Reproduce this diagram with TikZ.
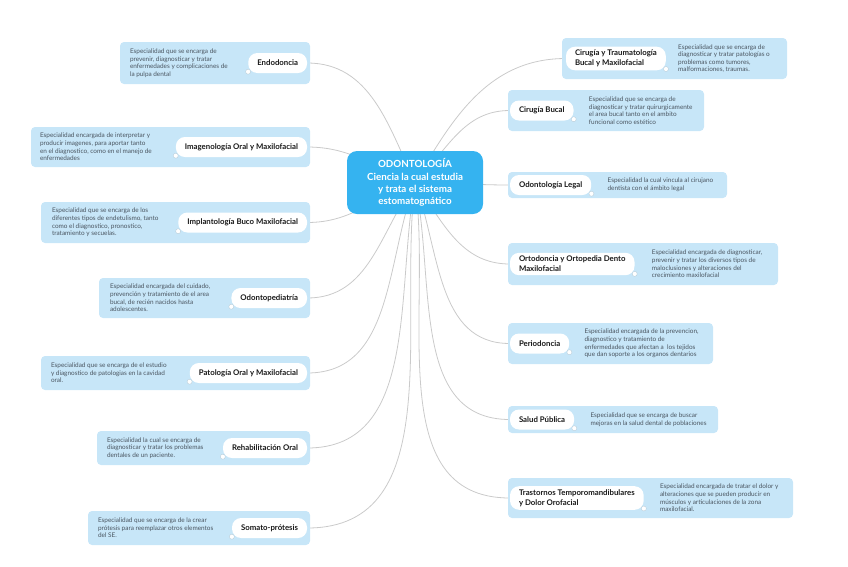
\documentclass[tikz,border=0pt]{standalone}
\usepackage{fontspec}
\setmainfont{Lato}
\usetikzlibrary{positioning, fit, backgrounds}
\definecolor{topiccol}{HTML}{35B3F0}
\definecolor{boxcol}{HTML}{C7E6F8}
\definecolor{linecol}{HTML}{CACACA}
\definecolor{desccol}{HTML}{4A5560}

\begin{document}
\begin{tikzpicture}[
    x=1pt, y=1pt,
    every node/.style={font=\fontsize{6.4}{7.6}\selectfont},
    topic/.style={rectangle, rounded corners=10pt, fill=topiccol, text=white,
                  align=center, minimum width=136pt, minimum height=63pt,
                  font=\fontsize{9.8}{12.3}\selectfont\bfseries},
    infobox/.style={rectangle, rounded corners=4pt, fill=boxcol, inner sep=0pt},
    pill/.style={rectangle, rounded corners=9pt, fill=white, align=left,
                 inner xsep=9pt, minimum height=20pt, text=black!90,
                 font=\fontsize{7.8}{9.8}\selectfont\bfseries},
    desc/.style={align=left, text=desccol, inner sep=0pt},
    dot/.style={circle, fill=white, draw=boxcol!70!gray, line width=0.3pt,
                inner sep=0pt, minimum size=5pt},
    branch/.style={draw=linecol, line width=0.8pt},
]
\useasboundingbox (0,0) rectangle (848,-566);

\node[topic] (topic) at (415,-182.5) {ODONTOLOGÍA\\Ciencia la cual estudia\\
    y trata el sistema\\estomatognático};

% Left branches
\node[infobox, fit={(120,-42) (310,-84)}] (endobox) {};
\node[pill, anchor=east] (endo) at ([xshift=-3pt]endobox.east) {Endodoncia};
\node[desc, anchor=west] (endodesc) at ([xshift=10pt]endobox.west)
    {Especialidad que se encarga de\\prevenir, diagnosticar y tratar\\
     enfermedades y complicaciones de\\la pulpa dental};
\node[dot] (endodot) at ([yshift=1.5pt]endo.south west) {};

\node[infobox, fit={(31,-127) (310,-167)}] (imagbox) {};
\node[pill, anchor=east] (imag) at ([xshift=-3pt]imagbox.east)
    {Imagenología Oral y Maxilofacial};
\node[desc, anchor=west] (imagdesc) at ([xshift=9pt]imagbox.west)
    {Especialidad encargada de interpretar y\\producir imagenes, para aportar tanto\\
     en el diagnostico, como en el manejo de\\enfermedades};
\node[dot] (imagdot) at ([yshift=1.5pt]imag.south west) {};

\node[infobox, fit={(41,-202) (310,-243)}] (implbox) {};
\node[pill, anchor=east] (impl) at ([xshift=-3pt]implbox.east)
    {Implantología Buco Maxilofacial};
\node[desc, anchor=west] (impldesc) at ([xshift=11pt]implbox.west)
    {Especialidad que se encarga de los\\diferentes tipos de endetulismo, tanto\\
     como el diagnostico, pronostico,\\tratamiento y secuelas.};
\node[dot] (impldot) at ([yshift=1.5pt]impl.south west) {};

\node[infobox, fit={(99,-278) (310,-318)}] (odpedbox) {};
\node[pill, anchor=east] (odped) at ([xshift=-3pt]odpedbox.east) {Odontopediatría};
\node[desc, anchor=west] (odpeddesc) at ([xshift=11pt]odpedbox.west)
    {Especialidad encargada del cuidado,\\prevención y tratamiento de el area\\
     bucal, de recién nacidos hasta\\adolescentes.};
\node[dot] (odpeddot) at ([yshift=1.5pt]odped.south west) {};

\node[infobox, fit={(41,-356) (310,-390)}] (patolbox) {};
\node[pill, anchor=east] (patol) at ([xshift=-3pt]patolbox.east)
    {Patología Oral y Maxilofacial};
\node[desc, anchor=west] (pataoldesc) at ([xshift=10pt]patolbox.west)
    {Especialidad que se encarga de el estudio\\y diagnostico de patologias en la cavidad\\
     oral.};
\node[dot] (patoldot) at ([yshift=1.5pt]patol.south west) {};

\node[infobox, fit={(97,-431) (310,-465)}] (rehabbox) {};
\node[pill, anchor=east] (rehab) at ([xshift=-3pt]rehabbox.east) {Rehabilitación Oral};
\node[desc, anchor=west] (rehabdesc) at ([xshift=10pt]rehabbox.west)
    {Especialidad la cual se encarga de\\diagnosticar y tratar los problemas\\
     dentales de un paciente.};
\node[dot] (rehabdot) at ([yshift=1.5pt]rehab.south west) {};

\node[infobox, fit={(88,-511) (310,-545)}] (somatobox) {};
\node[pill, anchor=east] (somato) at ([xshift=-3pt]somatobox.east) {Somato-prótesis};
\node[desc, anchor=west] (somatodesc) at ([xshift=10pt]somatobox.west)
    {Especialidad que se encarga de la crear\\prótesis para reemplazar otros elementos\\
     del SE.};
\node[dot] (somatodot) at ([yshift=1.5pt]somato.south west) {};

% Right branches
\node[infobox, fit={(562,-38) (787,-79)}] (cirtraubox) {};
\node[pill, anchor=west] (cirtrau) at ([xshift=4pt]cirtraubox.west)
    {Cirugía y Traumatología\\Bucal y Maxilofacial};
\node[desc, right=12pt of cirtrau] (cirtraudesc)
    {Especialidad que se encarga de\\diagnosticar y tratar patologías o\\
     problemas como tumores,\\malformaciones, traumas.};
\node[dot] (cirtraudot) at ([yshift=1.5pt]cirtrau.south east) {};

\node[infobox, fit={(508,-90) (704,-131)}] (cirbucbox) {};
\node[pill, anchor=west] (cirbuc) at ([xshift=2pt]cirbucbox.west) {Cirugía Bucal};
\node[desc, right=15pt of cirbuc] (cirbucdesc)
    {Especialidad que se encarga de\\diagnosticar y tratar quirurgicamente\\
     el area bucal tanto en el ambito\\funcional como estético};
\node[dot] (cirbucdot) at ([yshift=1.5pt]cirbuc.south east) {};

\node[infobox, fit={(508,-172) (727,-198)}] (legalbox) {};
\node[pill, anchor=west] (legal) at ([xshift=2pt]legalbox.west) {Odontología Legal};
\node[desc, right=16pt of legal] (legaldesc)
    {Especialidad la cual vincula al cirujano\\dentista con el ámbito legal};
\node[dot] (legaldot) at ([yshift=1.5pt]legal.south east) {};

\node[infobox, fit={(508,-243) (778,-285)}] (ortobox) {};
\node[pill, anchor=west] (orto) at ([xshift=2pt]ortobox.west)
    {Ortodoncia y Ortopedia Dento\\Maxilofacial};
\node[desc, right=17pt of orto] (ortodesc)
    {Especialidad encargada de diagnosticar,\\prevenir y tratar los diversos tipos de\\
     maloclusiones y alteraciones del\\crecimiento maxilofacial};
\node[dot] (ortodot) at ([yshift=1.5pt]orto.south east) {};

\node[infobox, fit={(508,-323) (713,-364)}] (periobox) {};
\node[pill, anchor=west] (perio) at ([xshift=2pt]periobox.west) {Periodoncia};
\node[desc, right=15pt of perio] (periodesc)
    {Especialidad encargada de la prevencion,\\diagnostico y tratamiento de\\
     enfermedades que afectan a \ los tejidos\\que dan soporte a los organos dentarios};
\node[dot] (periodot) at ([yshift=1.5pt]perio.south east) {};

\node[infobox, fit={(508,-406) (718,-433)}] (saludbox) {};
\node[pill, anchor=west] (salud) at ([xshift=2pt]saludbox.west) {Salud Pública};
\node[desc, right=16pt of salud] (saluddesc)
    {Especialidad que se encarga de buscar\\mejoras en la salud dental de poblaciones};
\node[dot] (saluddot) at ([yshift=1.5pt]salud.south east) {};

\node[infobox, fit={(508,-478) (793,-518)}] (trastbox) {};
\node[pill, anchor=west] (trast) at ([xshift=2pt]trastbox.west)
    {Trastornos Temporomandibulares\\y Dolor Orofacial};
\node[desc, right=16pt of trast] (trastdesc)
    {Especialidad encargada de tratar el dolor y\\alteraciones que se pueden producir en\\
     músculos y articulaciones de la zona\\maxilofacial.};
\node[dot] (trastdot) at ([yshift=1.5pt]trast.south east) {};

% Branch lines
\begin{scope}[on background layer]
\draw[branch] (topic.center) to[out=115, in=0] (endo.east);
\draw[branch] (topic.center) to[out=160, in=0] (imag.east);
\draw[branch] (topic.center) to[out=200, in=0] (impl.east);
\draw[branch] (topic.center) to[out=235, in=0] (odped.east);
\draw[branch] (topic.center) to[out=250, in=0] (patol.east);
\draw[branch] (topic.center) to[out=260, in=0] (rehab.east);
\draw[branch] (topic.center) to[out=263, in=0] (somato.east);
\draw[branch] (topic.center) to[out=60, in=180] (cirtrau.west);
\draw[branch] (topic.center) to[out=45, in=180] (cirbuc.west);
\draw[branch] (topic.center) to[out=0, in=180] (legal.west);
\draw[branch] (topic.center) to[out=-55, in=180] (orto.west);
\draw[branch] (topic.center) to[out=-70, in=180] (perio.west);
\draw[branch] (topic.center) to[out=-78, in=180] (salud.west);
\draw[branch] (topic.center) to[out=-82, in=180] (trast.west);
\end{scope}

\end{tikzpicture}
\end{document}
